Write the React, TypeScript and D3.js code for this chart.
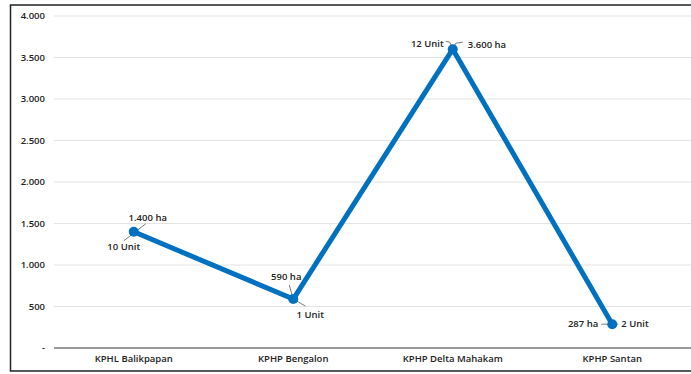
import React from "react";
import * as d3 from "d3";

const categories = ["KPHL Balikpapan", "KPHP Bengalon", "KPHP Delta Mahakam", "KPHP Santan"];
const areaHa = [1400, 590, 3600, 287];
const haLabels = ["1.400 ha", "590 ha", "3.600 ha", "287 ha"];
const unitLabels = ["10 Unit", "1 Unit", "12 Unit", "2 Unit"];
const yTicks = [0, 500, 1000, 1500, 2000, 2500, 3000, 3500, 4000];
const yTickLabels = ["-", "500", "1.000", "1.500", "2.000", "2.500", "3.000", "3.500", "4.000"];

// label offsets relative to the point: [dx, dy, anchor]
const haOffsets: [number, number, string][] = [
  [14, -14, "middle"],
  [-7, -22, "middle"],
  [15, -5, "start"],
  [-14, -1, "end"],
];
const unitOffsets: [number, number, string][] = [
  [-10, 15, "middle"],
  [17, 16, "middle"],
  [-9, -6, "end"],
  [9, -1, "start"],
];
const leaders: [number, number, number, number][][] = [
  [[-10, 9, 12, -8]],
  [[-4, -14, 0, 0], [0, 0, 12, 7]],
  [[-7, -8, -3, -7], [-3, -7, -1, -2], [1, -2, 3, -6], [3, -6, 10, -7]],
  [[-11, 0, 6, 0]],
];

export default function App() {
  const width = 691;
  const height = 374;
  const x = d3.scaleBand().domain(categories).range([54, 692]);
  const y = d3.scaleLinear().domain([0, 4000]).range([348, 16]);
  const cx = (c: string) => (x(c) ?? 0) + x.bandwidth() / 2;
  const line = d3
    .line<number>()
    .x((_, i) => cx(categories[i]))
    .y((d) => y(d));
  const font = "'Open Sans', 'Liberation Sans', sans-serif";

  return (
    <svg width={width} height={height} style={{ position: "absolute", left: 0, top: 0 }}>
      <rect x={0} y={0} width={width} height={height} fill="#fff" />
      <rect x={10.5} y={5} width={700} height={366} fill="none" stroke="#222" strokeWidth={1.5} />
      {yTicks.map((t, i) => (
        <g key={t}>
          {t > 0 && (
            <line x1={54} x2={692} y1={y(t)} y2={y(t)} stroke="#e3e3e3" strokeWidth={1} />
          )}
          <text
            x={45}
            y={y(t)}
            dy="0.35em"
            textAnchor="end"
            fontFamily={font}
            fontWeight={600}
            fontSize={9.5}
            fill="#222"
          >
            {yTickLabels[i]}
          </text>
        </g>
      ))}
      <line x1={54} x2={692} y1={y(0)} y2={y(0)} stroke="#333" strokeWidth={1.2} />
      {categories.map((c) => (
        <text
          key={c}
          x={cx(c)}
          y={362}
          textAnchor="middle"
          fontFamily={font}
          fontWeight={600}
          fontSize={9.5}
          fill="#222"
        >
          {c}
        </text>
      ))}
      <path d={line(areaHa) ?? ""} fill="none" stroke="#0070C0" strokeWidth={5} strokeLinejoin="round" />
      {areaHa.map((v, i) => {
        const px = cx(categories[i]);
        const py = y(v);
        return (
          <g key={i}>
            {leaders[i].map((l, j) => (
              <line
                key={j}
                x1={px + l[0]}
                y1={py + l[1]}
                x2={px + l[2]}
                y2={py + l[3]}
                stroke="#555"
                strokeWidth={0.8}
              />
            ))}
            <circle cx={px} cy={py} r={5} fill="#0070C0" />
            <text
              x={px + haOffsets[i][0]}
              y={py + haOffsets[i][1]}
              dy="0.35em"
              textAnchor={haOffsets[i][2] as any}
              fontFamily={font}
              fontWeight={600}
              fontSize={9.5}
              fill="#222"
            >
              {haLabels[i]}
            </text>
            <text
              x={px + unitOffsets[i][0]}
              y={py + unitOffsets[i][1]}
              dy="0.35em"
              textAnchor={unitOffsets[i][2] as any}
              fontFamily={font}
              fontWeight={600}
              fontSize={9.5}
              fill="#222"
            >
              {unitLabels[i]}
            </text>
          </g>
        );
      })}
    </svg>
  );
}
